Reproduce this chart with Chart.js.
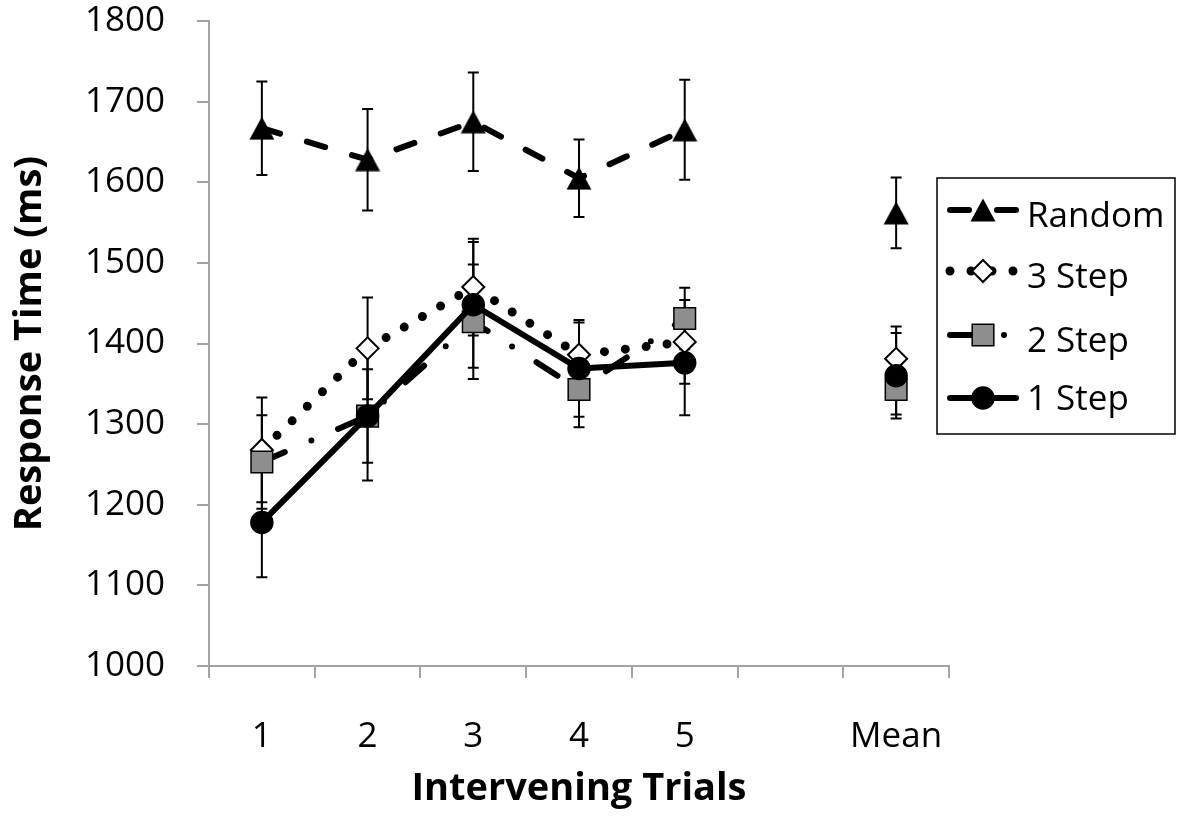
<!DOCTYPE html>
<html><head><meta charset="utf-8">
<script src="https://cdn.jsdelivr.net/npm/chart.js@4.4.1/dist/chart.umd.min.js"></script>
<style>html,body{margin:0;padding:0;background:#fff}#wrap{width:1180px;height:819px;position:relative}</style>
</head><body><div id="wrap"><canvas id="c" width="1180" height="819"></canvas></div>
<script>
// ---- data ----
const categories = ['1', '2', '3', '4', '5', '', 'Mean'];
const yMin = 1000, yMax = 1800, yStep = 100;
const seriesNames = ['Random', '3 Step', '2 Step', '1 Step'];
const randomMeans = [1667, 1628, 1675, 1605, 1665, null, 1562];
const randomErr   = [58, 63, 61, 48, 62, null, 44];
const step3Means  = [1268, 1394, 1470, 1386, 1402, null, 1381];
const step3Err    = [65, 63, 60, 40, 52, null, 40];
const step2Means  = [1253, 1310, 1427, 1343, 1431, null, 1343];
const step2Err    = [58, 58, 71, 47, 38, null, 31];
const step1Means  = [1178, 1310, 1448, 1369, 1376, null, 1360];
const step1Err    = [68, 80, 78, 60, 65, null, 53];
const xTitle = 'Intervening Trials';
const yTitle = 'Response Time (ms)';

const allMeans = [randomMeans, step3Means, step2Means, step1Means];
const allErrs = [randomErr, step3Err, step2Err, step1Err];

const axisGray = '#a3a3a3';
const squareGray = '#8e8e8e';
const tickFont = {family: 'Open Sans', size: 35};
const titleFont = {family: 'Open Sans', size: 38, weight: 'bold'};

// triangle marker image (centered bounding box)
function makeTriangle() {
  const c = document.createElement('canvas');
  c.width = 26; c.height = 24;
  const g = c.getContext('2d');
  g.fillStyle = '#000';
  g.beginPath(); g.moveTo(13, 0.5); g.lineTo(25.5, 23.5); g.lineTo(0.5, 23.5); g.closePath(); g.fill();
  return c;
}
const triImg = makeTriangle();

const lineStyles = [
  {dash: [19, 28], width: 6},
  {dash: [0, 21], width: 9},
  {dash: [25, 29, 0, 29], width: 6},
  {dash: [], width: 6}
];
const markerStyles = [
  {style: triImg, radius: 12, bg: '#000', bw: 0},
  {style: 'rectRot', radius: 11, bg: '#fff', bw: 2},
  {style: 'rect', radius: 15.3, bg: squareGray, bw: 1.5},
  {style: 'circle', radius: 11, bg: '#000', bw: 1.5}
];

const datasets = seriesNames.map((name, i) => ({
  label: name,
  data: allMeans[i],
  order: 4 - i,
  borderColor: '#000',
  borderWidth: lineStyles[i].width,
  borderDash: lineStyles[i].dash,
  borderCapStyle: 'round',
  borderJoinStyle: 'round',
  tension: 0,
  spanGaps: false,
  pointStyle: markerStyles[i].style,
  pointRadius: markerStyles[i].radius,
  pointBackgroundColor: markerStyles[i].bg,
  pointBorderColor: '#000',
  pointBorderWidth: markerStyles[i].bw,
  fill: false
}));

const errorBarPlugin = {
  id: 'errorBars',
  beforeDatasetsDraw(chart) {
    const {ctx, scales: {x, y}} = chart;
    ctx.save();
    ctx.strokeStyle = '#000';
    ctx.lineWidth = 2;
    allMeans.forEach((means, si) => {
      const errs = allErrs[si];
      means.forEach((m, i) => {
        if (m == null) return;
        const px = x.getPixelForValue(i);
        const yt = y.getPixelForValue(m + errs[i]);
        const yb = y.getPixelForValue(m - errs[i]);
        ctx.beginPath();
        ctx.moveTo(px, yt); ctx.lineTo(px, yb);
        ctx.moveTo(px - 5.5, yt); ctx.lineTo(px + 5.5, yt);
        ctx.moveTo(px - 5.5, yb); ctx.lineTo(px + 5.5, yb);
        ctx.stroke();
      });
    });
    ctx.restore();
  }
};

function drawMarker(ctx, i, x, y) {
  const m = markerStyles[i];
  ctx.save();
  ctx.fillStyle = m.bg; ctx.strokeStyle = '#000'; ctx.lineWidth = m.bw;
  ctx.setLineDash([]);
  if (i === 0) {
    ctx.drawImage(triImg, x - triImg.width / 2, y - triImg.height / 2);
  } else if (i === 1) {
    const r = m.radius;
    ctx.beginPath(); ctx.moveTo(x - r, y); ctx.lineTo(x, y - r); ctx.lineTo(x + r, y); ctx.lineTo(x, y + r); ctx.closePath();
    ctx.fill(); ctx.stroke();
  } else if (i === 2) {
    const h = m.radius * Math.SQRT1_2;
    ctx.beginPath(); ctx.rect(x - h, y - h, 2 * h, 2 * h); ctx.fill(); ctx.stroke();
  } else {
    ctx.beginPath(); ctx.arc(x, y, m.radius, 0, Math.PI * 2); ctx.fill(); ctx.stroke();
  }
  ctx.restore();
}

const legendPlugin = {
  id: 'customLegend',
  afterDraw(chart) {
    const ctx = chart.ctx;
    const box = {l: 937, t: 178, r: 1175, b: 434};
    ctx.save();
    ctx.strokeStyle = '#000'; ctx.lineWidth = 1.5;
    ctx.strokeRect(box.l, box.t, box.r - box.l, box.b - box.t);
    const symY = [210, 271, 335, 398];
    const baseY = [227, 288, 352, 410];
    seriesNames.forEach((name, i) => {
      const ls = lineStyles[i];
      ctx.save();
      ctx.strokeStyle = '#000'; ctx.lineWidth = ls.width; ctx.lineCap = 'round';
      ctx.setLineDash(ls.dash);
      ctx.beginPath(); ctx.moveTo(950, symY[i]); ctx.lineTo(1016, symY[i]); ctx.stroke();
      ctx.restore();
      drawMarker(ctx, i, 983, symY[i]);
      ctx.fillStyle = '#000';
      ctx.font = '35px "Open Sans"';
      ctx.textBaseline = 'alphabetic';
      ctx.textAlign = 'left';
      ctx.fillText(name, 1027, baseY[i]);
    });
    ctx.restore();
  }
};

new Chart(document.getElementById('c'), {
  type: 'line',
  data: {labels: categories, datasets},
  options: {
    responsive: false,
    animation: false,
    events: [],
    layout: {padding: {top: 21, right: 231, left: 0, bottom: 0}},
    plugins: {legend: {display: false}, tooltip: {enabled: false}},
    scales: {
      x: {
        type: 'category',
        offset: true,
        grid: {display: true, offset: true, drawOnChartArea: false, drawTicks: true, tickLength: 12, color: axisGray, lineWidth: 2},
        border: {display: true, color: axisGray, width: 2},
        ticks: {color: '#000', font: tickFont, padding: 38, maxRotation: 0, autoSkip: false},
        title: {display: true, text: xTitle, color: '#000', font: titleFont, padding: {top: 0, bottom: 7}},
        afterFit: s => { s.height = 153; s.paddingLeft = 0; s.paddingRight = 0; }
      },
      y: {
        min: yMin, max: yMax,
        grid: {display: true, drawOnChartArea: false, drawTicks: true, tickLength: 12, color: axisGray, lineWidth: 2},
        border: {display: true, color: axisGray, width: 2},
        ticks: {stepSize: yStep, color: '#000', font: tickFont, padding: 32, callback: v => String(v)},
        title: {display: true, text: yTitle, color: '#000', font: titleFont, padding: {top: 7, bottom: 0}},
        afterFit: s => { s.width = 209; s.paddingTop = 0; s.paddingBottom = 0; }
      }
    }
  },
  plugins: [errorBarPlugin, legendPlugin]
});
</script>
</body></html>
